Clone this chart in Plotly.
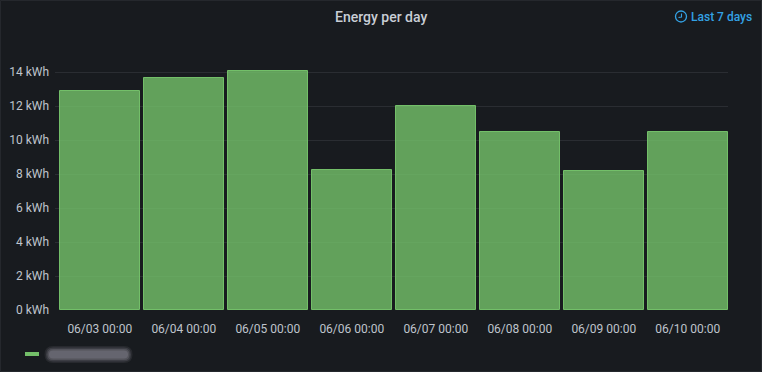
import plotly.graph_objects as go

categories = ["06/03 00:00", "06/04 00:00", "06/05 00:00", "06/06 00:00",
              "06/07 00:00", "06/08 00:00", "06/09 00:00", "06/10 00:00"]
energy_kwh = [12.89, 13.65, 14.08, 8.25, 12.0, 10.48, 8.2, 10.48]
y_ticks = [0, 2, 4, 6, 8, 10, 12, 14]
y_labels = [f"{v} kWh" for v in y_ticks]
title = "Energy per day"
time_label = "Last 7 days"

W, H = 762, 372
L, R, T, B = 55, 728, 38, 310
FONT = "Roboto, Inter, sans-serif"
BG = "#181b1f"
TXT = "#bfc4cc"
BLUE = "#33a2e5"
GREEN = "#73bf69"


def px(x):
    return (x - L) / (R - L)


def py(y):
    return (B - y) / (B - T)


fig = go.Figure(go.Bar(
    x=list(range(len(categories))), y=energy_kwh, width=0.95,
    marker=dict(color="rgba(115,191,105,0.82)", line=dict(color=GREEN, width=1)),
    hoverinfo="skip", showlegend=False))

shapes = [
    # panel border
    dict(type="rect", xref="paper", yref="paper", x0=px(0.5), x1=px(W - 0.5), y0=py(0.5), y1=py(H - 0.5),
         line=dict(color="#25282d", width=1), fillcolor="rgba(0,0,0,0)", layer="below"),
    # clock icon
    dict(type="circle", xref="paper", yref="paper", x0=px(675.5), x1=px(686.5), y0=py(11), y1=py(22),
         line=dict(color=BLUE, width=1.3)),
    dict(type="path", xref="paper", yref="paper",
         path=f"M {px(681.5)} {py(13.5)} L {px(681.5)} {py(17)} L {px(678.5)} {py(17.5)}",
         line=dict(color=BLUE, width=1.1)),
    # legend swatch
    dict(type="rect", xref="paper", yref="paper", x0=px(25), x1=px(39), y0=py(352), y1=py(356),
         line=dict(width=0), fillcolor=GREEN),
]
# soft blurred legend name
for inset, op in [(0, 0.15), (1.5, 0.25), (3, 0.35), (4.5, 0.45)]:
    x0, x1, y0, y1 = 44.5 + inset, 132.5 - inset, 346 + inset, 363 - inset
    r = max(y1 - y0, 1) / 2
    shapes.append(dict(
        type="path", xref="paper", yref="paper", line=dict(width=0),
        fillcolor=f"rgba(125,125,135,{op})",
        path=(f"M {px(x0 + r)} {py(y0)} L {px(x1 - r)} {py(y0)} "
              f"Q {px(x1)} {py(y0)} {px(x1)} {py((y0 + y1) / 2)} "
              f"Q {px(x1)} {py(y1)} {px(x1 - r)} {py(y1)} "
              f"L {px(x0 + r)} {py(y1)} "
              f"Q {px(x0)} {py(y1)} {px(x0)} {py((y0 + y1) / 2)} "
              f"Q {px(x0)} {py(y0)} {px(x0 + r)} {py(y0)} Z")))

annotations = [
    dict(text=title, xref="paper", yref="paper", x=px(380.5), y=py(17), showarrow=False,
         xanchor="center", yanchor="middle", font=dict(family=FONT, size=14, weight=500, color="#c9ced6")),
    dict(text=time_label, xref="paper", yref="paper", x=px(689.8), y=py(17), showarrow=False,
         xanchor="left", yanchor="middle", borderpad=0, font=dict(family=FONT, size=12, weight=500, color=BLUE)),
]

fig.update_layout(
    width=W, height=H, autosize=False,
    margin=dict(l=L, r=W - R, t=T, b=H - B, pad=0),
    paper_bgcolor=BG, plot_bgcolor=BG,
    bargap=0, shapes=shapes, annotations=annotations,
    font=dict(family=FONT, size=12, color=TXT),
    xaxis=dict(range=[-0.533, 7.479], tickmode="array", tickvals=list(range(len(categories))),
               ticktext=categories, showgrid=False, zeroline=False, ticks="", showline=False,
               automargin=False,
               tickfont=dict(size=12, color=TXT), ticklabelstandoff=10),
    yaxis=dict(range=[0, 16], tickmode="array", tickvals=y_ticks, ticktext=y_labels,
               gridcolor="#2a2d32", gridwidth=1, zeroline=False, ticks="", showline=False,
               automargin=False,
               tickfont=dict(size=12, color=TXT), ticklabelstandoff=5),
)
fig.write_html("out.html", config={"displayModeBar": False},
               post_script="document.body.style.margin='0';document.body.style.background='#181b1f';document.documentElement.style.overflow='hidden';")
